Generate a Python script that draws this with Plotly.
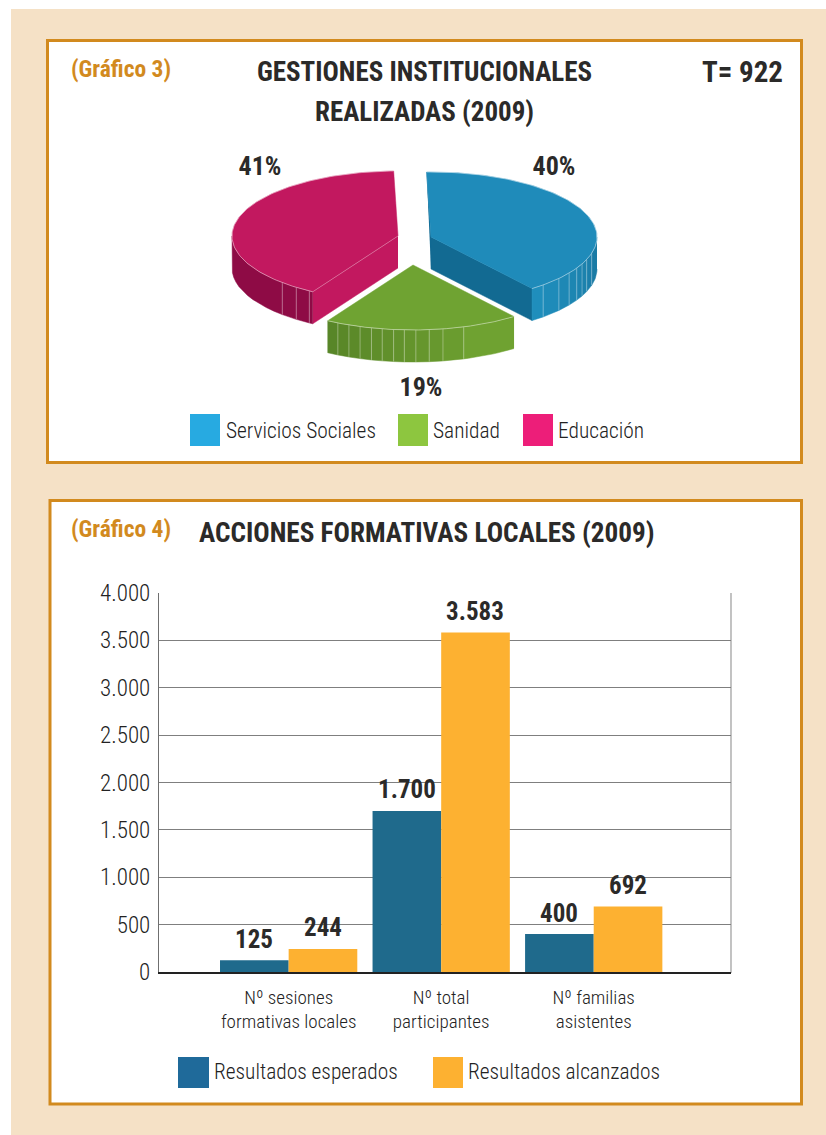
import numpy as np
import plotly.graph_objects as go

# ---------- data ----------
pie_labels = ["Servicios Sociales", "Sanidad", "Educación"]
pie_values = [40, 19, 41]
pie_total_label = "T= 922"

bar_categories = ["Nº sesiones<br>formativas locales", "Nº total<br>participantes", "Nº familias<br>asistentes"]
bar_expected = [125, 1700, 400]
bar_achieved = [244, 3583, 692]
series_names = ["Resultados esperados", "Resultados alcanzados"]
y_ticks = [0, 500, 1000, 1500, 2000, 2500, 3000, 3500, 4000]

# ---------- styling ----------
W, H = 826, 1135
FONT = "Roboto Condensed, Noto Sans Condensed, Open Sans Condensed, DejaVu Sans Condensed, sans-serif"
INK = "#2b2a29"
LIGHT_INK = "#222222"
ORANGE = "#D28A1E"
BEIGE = "#F5E1C6"
PIE_START = -1.5
RX, RY, DEPTH = 166, 65, 32
PIE_CENTERS = [(431, 237), (413, 265), (398, 236)]
PIE_TOP = ["#1F8BBA", "#6FA332", "#C2185F"]
PIE_INNER = ["#126A92", None, "#C2185F"]
WALL_A = [(0x20, 0x90, 0xBE), (0x58, 0x85, 0x28), (0x8E, 0x0B, 0x45)]
WALL_B = [(0x1A, 0x78, 0xA2), (0x74, 0xA8, 0x33), (0x9C, 0x0F, 0x4E)]
WALL_LINES = [
    [137.5, 129.6, 123.7, 118.6, 114.5, 110.3, 104.5],
    [162.2, 169.6, 174.4, 179, 183, 186.7, 190.7, 194.5, 198.6, 202.7, 206.9],
    [224.2, 217.8, 212.3],
]
LEGEND1_BOX = [(190, "#27AAE1", 224), (398, "#8DC63F", 431), (523, "#ED1E79", 556)]

fig = go.Figure()
XA, YA = "x2", "y2"


def poly(xs, ys, color, line=None):
    fig.add_trace(go.Scatter(
        x=list(xs), y=list(ys), xaxis=XA, yaxis=YA, mode="lines", fill="toself",
        fillcolor=color, line=dict(color=line or color, width=0.5),
        hoverinfo="skip", showlegend=False))


def stroke(xs, ys, color="rgba(255,255,255,0.55)", width=0.8):
    fig.add_trace(go.Scatter(
        x=list(xs), y=list(ys), xaxis=XA, yaxis=YA, mode="lines",
        line=dict(color=color, width=width), hoverinfo="skip", showlegend=False))


def ell(cx, cy, deg):
    t = np.radians(deg)
    return cx + RX * np.sin(t), cy - RY * np.cos(t)


angle = PIE_START
total = sum(pie_values)
spans = []
for v in pie_values:
    spans.append((angle, angle + 360 * v / total))
    angle += 360 * v / total

for i, (a0, a1) in enumerate(spans):
    cx, cy = PIE_CENTERS[i]
    if i == 0:
        x1, y1 = ell(cx, cy, a1)
        poly([cx, x1, x1, cx], [cy, y1, y1 + DEPTH, cy + DEPTH], PIE_INNER[0])
        x0, y0 = ell(cx, cy, a0)
        poly([x0, cx, cx], [y0, cy, cy + DEPTH], PIE_INNER[0])
    if i == 2:
        x0, y0 = ell(cx, cy, a0)
        poly([cx, x0, x0, cx], [cy, y0, y0 + DEPTH, cy + DEPTH], PIE_INNER[2])
    lo, hi = max(a0, 90), min(a1, 270)
    edges = sorted([lo, hi] + [d for d in WALL_LINES[i] if lo < d < hi])
    for p, q in zip(edges[:-1], edges[1:]):
        mid = (p + q) / 2
        f = 1 - (mid - lo) / max(hi - lo, 1)
        c = [int(A + (B - A) * f) for A, B in zip(WALL_A[i], WALL_B[i])]
        if i == 2:
            c = list(WALL_A[2])
        col = "rgb(%d,%d,%d)" % tuple(c)
        th = np.linspace(p, q, 12)
        xt, yt = ell(cx, cy, th)
        poly(list(xt) + list(xt[::-1]), list(yt) + list((yt + DEPTH)[::-1]), col)
    for d in WALL_LINES[i]:
        xt, yt = ell(cx, cy, d)
        stroke([xt, xt], [yt, yt + DEPTH], "rgba(255,255,255,0.4)", 0.8)
    th = np.linspace(a0, a1, 120)
    xt, yt = ell(cx, cy, th)
    poly([cx] + list(xt) + [cx], [cy] + list(yt) + [cy], PIE_TOP[i])
    stroke(xt, yt, "rgba(255,255,255,0.55)", 0.8)
    if i == 2:
        x0, y0 = ell(cx, cy, a0)
        stroke([cx, x0], [cy, y0], "rgba(255,255,255,0.45)", 0.7)

fig.add_trace(go.Scatter(
    x=[554, 421, 260], y=[168, 389, 168], xaxis=XA, yaxis=YA, mode="text",
    text=[f"{v}%" for v in pie_values],
    textfont=dict(family=FONT, size=26, color=INK, weight="bold"),
    hoverinfo="skip", showlegend=False))

for vals, name, col in ((bar_expected, series_names[0], "#1F6A8C"), (bar_achieved, series_names[1], "#FDB131")):
    fig.add_trace(go.Bar(
        x=bar_categories, y=vals, name=name,
        marker=dict(color=col, line_width=0), showlegend=False))

# value labels above each bar, anchored to the data
for vals, shift in ((bar_expected, -34.3), (bar_achieved, 34.3)):
    for cat, v in zip(bar_categories, vals):
        fig.add_annotation(
            x=cat, y=v, xref="x", yref="y", xshift=shift, yshift=21, showarrow=False,
            text=f"{v:,}".replace(",", "."), yanchor="middle", xanchor="center",
            font=dict(family=FONT, size=25, color=INK, weight="bold"))


def px(x):
    return x / W


def py(y):
    return 1 - y / H


def rect(x0, x1, y0, y1, **kw):
    return dict(type="rect", xref="paper", yref="paper", x0=px(x0), x1=px(x1), y0=py(y0), y1=py(y1),
                layer="below", **kw)


shapes = [
    rect(11, 826, 9, 1135, fillcolor=BEIGE, line_width=0),
    rect(47.5, 801.5, 40.5, 462.5, fillcolor="white", line=dict(color=ORANGE, width=3)),
    rect(50, 801.5, 500.5, 1104, fillcolor="white", line=dict(color=ORANGE, width=3)),
    dict(type="line", xref="paper", yref="paper", x0=px(731), x1=px(731), y0=py(593), y1=py(973),
         line=dict(color="#9a9a9a", width=1.2), layer="below"),
    rect(178, 209, 1057, 1088, fillcolor="#1F6A9A", line_width=0),
    rect(433, 463, 1057, 1088, fillcolor="#FDB131", line_width=0),
]
for x0, col, _ in LEGEND1_BOX:
    shapes.append(rect(x0, x0 + 30, 414, 446, fillcolor=col, line_width=0))


def note(x, y, text, size, color=INK, weight="normal", anchor="center"):
    fig.add_annotation(
        x=x, y=y, xref="x2", yref="y2", text=text, showarrow=False, xanchor=anchor, yanchor="middle",
        font=dict(family=FONT, size=size, color=color, weight=weight),
        align="center")


note(69, 69, "(Gráfico 3)", 23.5, ORANGE, "bold", "left")
note(69, 529, "(Gráfico 4)", 23.5, ORANGE, "bold", "left")
note(424, 72, "GESTIONES INSTITUCIONALES", 27, INK, "bold")
note(424, 112, "REALIZADAS (2009)", 27, INK, "bold")
note(785, 72, pie_total_label, 29, INK, "bold", "right")
note(197, 533, "ACCIONES FORMATIVAS LOCALES (2009)", 27.2, INK, "bold", "left")
for (x0, col, tx), lab in zip(LEGEND1_BOX, pie_labels):
    note(tx, 430, lab, 21.4, LIGHT_INK, 300, "left")
note(212, 1071, series_names[0], 21.4, LIGHT_INK, 300, "left")
note(466, 1071, series_names[1], 21.4, LIGHT_INK, 300, "left")

fig.update_layout(
    width=W, height=H, margin=dict(l=0, r=0, t=0, b=0, autoexpand=False), paper_bgcolor="white",
    plot_bgcolor="rgba(0,0,0,0)",
    separators=",.", barmode="group", bargap=0.1, bargroupgap=0, shapes=shapes, showlegend=False,
    font=dict(family=FONT, color=INK),
    xaxis=dict(domain=[159 / W, 731 / W], range=[-0.85, 2.9], type="category", showgrid=False,
               showline=True, linecolor="#222222", linewidth=1.5, ticks="", zeroline=False,
               ticklabelstandoff=7,
               tickfont=dict(family=FONT, size=19, color=LIGHT_INK, weight=300), fixedrange=True),
    yaxis=dict(domain=[(H - 972) / H, (H - 593) / H], range=[0, 4000], tickvals=y_ticks, tickformat=",d",
               showgrid=True, gridcolor="#7f7f7f", gridwidth=1, showline=True, linecolor="#6f6f6f", linewidth=1.2,
               zeroline=False, ticks="", ticklabelstandoff=3,
               tickfont=dict(family=FONT, size=23, color=LIGHT_INK, weight=300), fixedrange=True),
    xaxis2=dict(domain=[0, 1], range=[0, W], visible=False, fixedrange=True, anchor="y2"),
    yaxis2=dict(domain=[0, 1], range=[H, 0], visible=False, fixedrange=True, anchor="x2"),
)

fig.write_html("out.html", post_script="document.body.style.margin='0';", config=dict(displayModeBar=False))
